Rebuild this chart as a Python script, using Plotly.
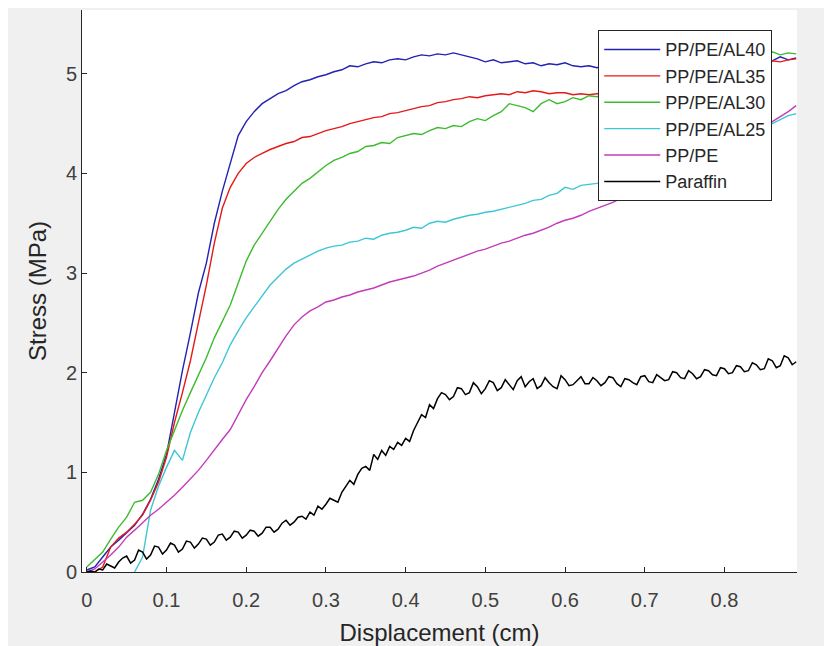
import plotly.graph_objects as go

x_full = [round(i * 0.01, 2) for i in range(90)]  # 0.00 .. 0.89

al40 = [0.02, 0.05, 0.15, 0.25, 0.32, 0.40, 0.47, 0.58, 0.73, 0.93,
        1.18, 1.60, 2.02, 2.40, 2.80, 3.10, 3.50, 3.82, 4.10, 4.38,
        4.52, 4.62, 4.70, 4.75, 4.80, 4.83, 4.88, 4.92, 4.94, 4.97,
        4.99, 5.02, 5.04, 5.08, 5.07, 5.10, 5.12, 5.11, 5.14, 5.15,
        5.14, 5.17, 5.19, 5.18, 5.20, 5.19, 5.21, 5.19, 5.17, 5.15,
        5.12, 5.14, 5.11, 5.12, 5.13, 5.10, 5.11, 5.08, 5.10, 5.09,
        5.11, 5.08, 5.07, 5.08, 5.06, 5.08, 5.07, 5.09, 5.08, 5.10,
        5.09, 5.10, 5.11, 5.10, 5.12, 5.11, 5.12, 5.13, 5.12, 5.13,
        5.14, 5.13, 5.14, 5.15, 5.14, 5.15, 5.13, 5.17, 5.14, 5.16]

al35 = [0.00, 0.00, 0.05, 0.25, 0.34, 0.40, 0.48, 0.57, 0.72, 0.90,
        1.15, 1.50, 1.80, 2.12, 2.50, 2.88, 3.30, 3.65, 3.86, 4.00,
        4.10, 4.16, 4.20, 4.24, 4.27, 4.30, 4.32, 4.36, 4.37, 4.40,
        4.43, 4.45, 4.47, 4.50, 4.52, 4.54, 4.56, 4.57, 4.60, 4.61,
        4.63, 4.65, 4.67, 4.68, 4.71, 4.72, 4.74, 4.75, 4.77, 4.76,
        4.78, 4.79, 4.80, 4.79, 4.82, 4.81, 4.83, 4.82, 4.80, 4.81,
        4.81, 4.79, 4.80, 4.79, 4.80, 4.81, 4.82, 4.83, 4.84, 4.85,
        4.87, 4.88, 4.90, 4.91, 4.93, 4.95, 4.96, 4.98, 5.00, 5.02,
        5.03, 5.05, 5.07, 5.08, 5.10, 5.11, 5.13, 5.12, 5.14, 5.15]

al30 = [0.05, 0.12, 0.20, 0.33, 0.45, 0.55, 0.70, 0.72, 0.80, 0.98,
        1.22, 1.42, 1.62, 1.80, 1.98, 2.15, 2.35, 2.52, 2.68, 2.90,
        3.12, 3.28, 3.40, 3.52, 3.64, 3.74, 3.82, 3.90, 3.95, 4.02,
        4.08, 4.13, 4.16, 4.20, 4.22, 4.27, 4.28, 4.31, 4.30, 4.36,
        4.38, 4.40, 4.39, 4.43, 4.46, 4.45, 4.48, 4.47, 4.52, 4.55,
        4.53, 4.58, 4.62, 4.70, 4.68, 4.66, 4.62, 4.70, 4.74, 4.70,
        4.72, 4.76, 4.74, 4.78, 4.77, 4.80, 4.82, 4.84, 4.86, 4.88,
        4.90, 4.92, 4.94, 4.96, 4.98, 5.00, 5.02, 5.04, 5.06, 5.08,
        5.10, 5.12, 5.13, 5.15, 5.16, 5.18, 5.22, 5.19, 5.21, 5.20]

x_al25 = x_full[6:]
al25 = [0.00, 0.15, 0.62, 0.86,
        1.05, 1.22, 1.12, 1.40, 1.60, 1.78, 1.95, 2.10, 2.28, 2.42,
        2.55, 2.66, 2.77, 2.88, 2.96, 3.04, 3.10, 3.14, 3.18, 3.22,
        3.25, 3.27, 3.28, 3.31, 3.32, 3.35, 3.34, 3.38, 3.40, 3.41,
        3.43, 3.46, 3.45, 3.50, 3.52, 3.51, 3.54, 3.56, 3.58, 3.59,
        3.61, 3.62, 3.64, 3.66, 3.68, 3.70, 3.73, 3.74, 3.78, 3.80,
        3.86, 3.84, 3.88, 3.89, 3.90, 3.92, 3.94, 3.97, 4.00, 4.03,
        4.05, 4.08, 4.11, 4.14, 4.17, 4.20, 4.23, 4.26, 4.29, 4.32,
        4.35, 4.38, 4.41, 4.44, 4.46, 4.48, 4.50, 4.54, 4.58, 4.60]

pppe = [0.00, 0.03, 0.10, 0.17, 0.25, 0.35, 0.42, 0.50, 0.57, 0.63,
        0.70, 0.77, 0.85, 0.93, 1.02, 1.12, 1.23, 1.33, 1.43, 1.58,
        1.73, 1.86, 2.00, 2.12, 2.25, 2.37, 2.48, 2.56, 2.62, 2.66,
        2.71, 2.73, 2.76, 2.78, 2.81, 2.83, 2.85, 2.88, 2.91, 2.93,
        2.95, 2.97, 3.00, 3.03, 3.07, 3.10, 3.13, 3.16, 3.19, 3.22,
        3.24, 3.27, 3.30, 3.32, 3.35, 3.38, 3.40, 3.43, 3.46, 3.50,
        3.53, 3.55, 3.58, 3.62, 3.65, 3.68, 3.71, 3.75, 3.79, 3.83,
        3.87, 3.91, 3.95, 3.99, 4.03, 4.07, 4.11, 4.15, 4.19, 4.23,
        4.27, 4.31, 4.35, 4.39, 4.43, 4.47, 4.52, 4.57, 4.62, 4.68]

# Paraffin read at a finer 0.005 cm step (it is the noisiest trace)
paraffin = [0.00, 0.01, 0.00, 0.03, 0.02, 0.08, 0.06, 0.04, 0.10, 0.14,
            0.16, 0.09, 0.12, 0.22, 0.20, 0.13, 0.17, 0.26, 0.25, 0.18,
            0.22, 0.29, 0.27, 0.20, 0.23, 0.31, 0.30, 0.24, 0.28, 0.34,
            0.33, 0.27, 0.30, 0.37, 0.38, 0.32, 0.35, 0.41, 0.40, 0.34,
            0.37, 0.42, 0.41, 0.36, 0.39, 0.45, 0.45, 0.40, 0.43, 0.49,
            0.52, 0.47, 0.50, 0.55, 0.56, 0.53, 0.60, 0.57, 0.66, 0.63,
            0.68, 0.74, 0.72, 0.70, 0.80, 0.86, 0.92, 0.88, 0.98, 1.04,
            1.06, 1.02, 1.18, 1.13, 1.22, 1.17, 1.26, 1.23, 1.30, 1.27,
            1.34, 1.31, 1.42, 1.50, 1.58, 1.55, 1.68, 1.64, 1.74, 1.80,
            1.78, 1.73, 1.76, 1.85, 1.84, 1.78, 1.80, 1.90, 1.86, 1.79,
            1.84, 1.92, 1.90, 1.82, 1.85, 1.93, 1.88, 1.83, 1.92, 1.96,
            1.86, 1.91, 1.94, 1.84, 1.87, 1.95, 1.90, 1.86, 1.84, 1.97,
            1.93, 1.87, 1.88, 1.92, 1.96, 1.89, 1.89, 1.95, 1.92, 1.87,
            1.90, 1.96, 1.95, 1.89, 1.86, 1.94, 1.93, 1.90, 1.88, 1.96,
            1.97, 1.91, 1.90, 1.98, 1.95, 1.92, 1.93, 2.01, 2.00, 1.95,
            1.94, 2.02, 1.99, 1.94, 1.96, 2.03, 2.02, 1.98, 1.97, 2.05,
            2.04, 1.99, 2.00, 2.07, 2.06, 2.01, 2.02, 2.10, 2.08, 2.03,
            2.04, 2.14, 2.12, 2.05, 2.07, 2.17, 2.15, 2.08, 2.11]
x_paraffin = [round(i * 0.005, 3) for i in range(len(paraffin))]

series_names = ["PP/PE/AL40", "PP/PE/AL35", "PP/PE/AL30", "PP/PE/AL25", "PP/PE", "Paraffin"]
series_x = [x_full, x_full, x_full, x_al25, x_full, x_paraffin]
series_y = [al40, al35, al30, al25, pppe, paraffin]
series_colors = ["#2222b4", "#e61919", "#3cbc2c", "#3ec6d6", "#c23cba", "#000000"]
series_widths = [1.4, 1.4, 1.4, 1.4, 1.4, 1.5]

x_ticks = [0, 0.1, 0.2, 0.3, 0.4, 0.5, 0.6, 0.7, 0.8]
x_ticklabels = ["0", "0.1", "0.2", "0.3", "0.4", "0.5", "0.6", "0.7", "0.8"]
y_ticks = [0, 1, 2, 3, 4, 5]
y_ticklabels = ["0", "1", "2", "3", "4", "5"]

fig = go.Figure()
for name, xs, ys, col, w in zip(series_names, series_x, series_y, series_colors, series_widths):
    fig.add_trace(go.Scatter(x=xs, y=ys, mode="lines", name=name,
                             line=dict(color=col, width=w)))

axis_common = dict(showgrid=False, zeroline=False, showline=True,
                   linecolor="#262626", linewidth=1, ticks="inside",
                   ticklen=5, tickcolor="#262626", mirror=False,
                   automargin=False,
                   tickfont=dict(family="Arial, Liberation Sans", size=20, color="#404040"))

fig.update_layout(
    width=824, height=638,
    paper_bgcolor="#f0f0f0", plot_bgcolor="#ffffff",
    margin=dict(l=74, r=35, t=2, b=74),
    font=dict(family="Arial, Liberation Sans", color="#262626"),
    xaxis=dict(range=[-0.006, 0.891], tickvals=x_ticks, ticktext=x_ticklabels,
               ticklabelstandoff=10,
               title=dict(text="Displacement (cm)", font=dict(size=24, color="#262626"), standoff=14),
               **axis_common),
    yaxis=dict(range=[0, 5.64], tickvals=y_ticks, ticktext=y_ticklabels,
               title=dict(text="Stress (MPa)", font=dict(size=24, color="#262626"), standoff=12),
               **axis_common),
    legend=dict(x=0.722, y=0.964, xanchor="left", yanchor="top",
                bgcolor="#ffffff", bordercolor="#262626", borderwidth=1,
                itemwidth=56,
                font=dict(family="Arial, Liberation Sans", size=18, color="#262626"),
                tracegroupgap=0),
    showlegend=True,
)

fig.write_html("out.html")
